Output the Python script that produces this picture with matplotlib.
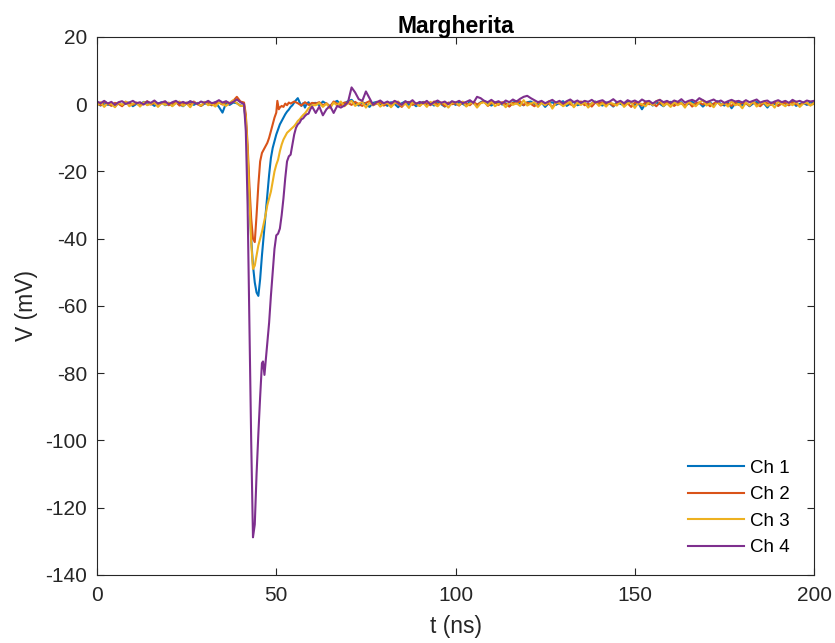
import numpy as np
import matplotlib
matplotlib.use("Agg")
import matplotlib.pyplot as plt

plt.rcParams['font.family'] = ['Liberation Sans', 'DejaVu Sans']
plt.rcParams['axes.unicode_minus'] = False

# time grid: baseline before pulse (0..40 ns), after pulse (61..200 ns)
t_pre = np.arange(0, 41)
t_post = np.arange(61, 201)

# ---- Ch 1 ----
ch1_pre = [0.3, -0.4, 0.6, -0.2, 0.1, -0.7, 0.4, -0.3, 0.2, 0.5, -0.6, 0.1, -0.2, 0.7,
           -0.1, 0.3, -0.5, 0.2, 0.6, -0.3, 0.1, -0.4, 0.5, 0.0, -0.6, 0.3, 0.8, -0.2,
           0.4, -0.5, 0.2, 0.1, -0.3, 0.6, -0.8, -2.5, 0.4, -0.2, 0.5, 0.3, -0.4]
ch1_pulse_t = [41.0, 41.5, 42.0, 42.5, 43.0, 43.5, 44.0, 44.5, 45.0, 45.5, 46.0, 46.5,
               47.0, 47.5, 48.0, 48.5, 49.0, 49.5, 50.0, 50.5, 51.0, 51.5, 52.0, 52.5,
               53.0, 53.5, 54.0, 54.5, 55.0, 55.5, 56.0, 56.5, 57.0, 57.5, 58.0, 58.5,
               59.0, 59.5, 60.0]
ch1_pulse = [-0.5, -5, -15, -28, -40, -48, -53, -56, -57, -52, -45, -39,
             -33, -27, -21, -16, -13, -11, -9, -7.5, -6, -5, -4, -3,
             -2.2, -1.6, -0.8, -0.3, 0.5, 1.2, 1.8, 0.6, -0.5, 0.3, -1.0, 0.2,
             0.6, -0.4, 0.3]
ch1_post = [0.4, -0.3, 0.8, 0.1, -0.6, 0.5, 1.0, -0.2, 0.3, 0.9, 1.3, 0.2, -0.4, 0.6, 0.1, -0.8, 0.4, 0.7, -0.3, 0.2,
            -0.5, 0.6, 0.1, -0.9, 0.3, 0.8, -0.2, 0.4, -0.6, 0.2, 0.7, -0.1, 0.5, -0.4, 0.9, 0.0, -0.7, 0.3, 0.6, -0.2,
            0.5, 0.1, -0.5, 0.8, 0.3, -0.3, 0.6, 1.0, 0.2, -0.4, 0.4, 0.7, -0.1, 0.3, -0.6, 0.5, 0.9, 0.2, -0.3, 0.6,
            0.8, 0.1, -0.4, 0.5, -0.8, 0.3, 0.6, -0.2, 0.4, 0.9, -0.5, 0.2, 0.7, -0.3, 0.1, 0.5, -0.6, 0.3, 0.8, 0.0,
            -0.4, 0.5, 0.2, -0.7, 0.6, 0.1, -0.3, 0.8, 0.4, -0.2, 0.3, -1.5, 0.2, 0.6, -0.4, 0.5, 0.1, -0.6, 0.4, 0.7,
            -0.2, 0.3, 0.6, -0.5, 0.2, 0.8, -0.1, 0.4, -0.7, 0.3, 0.5, -0.3, 0.9, 0.1, -0.4, 0.6, -1.2, 0.2, 0.5, -0.3,
            0.4, -0.6, 0.2, 0.7, -0.2, 0.3, -1.0, 0.5, 0.1, -0.4, 0.6, 0.2, -0.3, 0.8, -0.5, 0.1, 0.4, -0.2, 0.6, 0.3]

# ---- Ch 2 ----
ch2_pre = [0.5, -0.3, 0.8, 0.2, -0.5, 0.4, 0.1, -0.6, 0.7, 0.3, -0.2, 0.5, -0.4, 0.2,
           0.9, -0.1, 0.4, -0.5, 0.3, 0.6, -0.3, 0.2, 0.7, -0.4, 0.1, 0.5, -0.2, 0.8,
           0.0, -0.5, 0.4, 0.6, -0.3, 0.2, 0.5, -0.1, 0.7, 0.3, 1.0, 2.2, 0.8]
ch2_pulse_t = [41.0, 41.5, 42.0, 42.5, 43.0, 43.5, 44.0, 44.5, 45.0, 45.5, 46.0, 46.5,
               47.0, 47.5, 48.0, 48.5, 49.0, 49.5, 50.0, 50.3, 50.7, 51.0, 51.5, 52.0,
               52.5, 53.0, 53.5, 54.0, 55.0, 56.0, 57.0, 58.0, 59.0, 60.0]
ch2_pulse = [0.5, -3, -12, -24, -34, -40, -41, -33, -24, -17, -14.5, -13.5,
             -12.5, -11.5, -10, -8, -6, -4, -2.5, 1.0, -1.5, -1.0, -0.5, -0.8,
             0.2, -0.3, 0.5, 0.2, 0.8, 0.3, -0.4, 0.6, -0.2, 0.4]
ch2_post = [0.2, 0.6, -0.4, 0.3, -0.7, 0.8, 0.1, -0.3, 0.5, 0.4, -0.2, 0.7, 0.0, -0.5, 0.4, 0.9, -0.3, 0.2, 0.6, -0.4,
            0.3, -0.6, 0.5, 0.1, -0.8, 0.4, 0.7, -0.2, 0.3, -0.5, 0.6, 0.2, -0.3, 0.8, -0.1, 0.4, -0.6, 0.5, 0.0, 0.3,
            -0.4, 0.6, 0.2, -0.3, 0.7, -0.1, 0.4, 0.8, -0.5, 0.3, 0.5, -0.2, 0.6, 0.1, -0.7, 0.4, 0.2, 0.9, -0.3, 0.5,
            0.1, -0.6, 0.4, 0.7, -0.2, 0.3, -0.9, 0.5, 0.2, -0.4, 0.6, 0.0, -0.5, 0.4, 0.8, -0.3, 0.2, -0.7, 0.5, 0.3,
            0.6, -0.2, 0.4, -0.5, 0.1, 0.7, -0.3, 0.3, -0.8, 0.5, 0.2, -0.4, 0.6, 0.0, 0.3, -0.6, 0.5, -0.2, 0.7, 0.1,
            -0.5, 0.4, 0.2, -0.3, 0.6, -0.7, 0.3, 0.5, -0.1, 0.4, -0.6, 0.2, 0.7, -0.4, 0.3, 0.1, -0.5, 0.6, -0.2, 0.4,
            0.2, -0.4, 0.6, 0.1, -0.6, 0.5, 0.3, -0.2, 0.7, -0.5, 0.2, 0.4, -0.3, 0.6, 0.0, -0.4, 0.5, 0.2, -0.3, 0.4]

# ---- Ch 3 ----
ch3_pre = [-0.4, 0.6, -0.8, 0.3, 0.1, -0.9, 0.5, -0.2, 0.8, -0.6, 0.2, 0.4, -0.7, 0.6,
           -0.3, 0.1, 0.7, -0.8, 0.4, -0.2, 0.5, -0.6, 0.3, 0.8, -0.5, 0.2, -0.9, 0.6,
           0.1, -0.4, 0.7, -0.3, 0.2, -0.7, 0.5, 0.1, -0.5, 0.4, 1.2, 0.3, -0.5]
ch3_pulse_t = [41.0, 41.5, 42.0, 42.5, 43.0, 43.5, 44.0, 44.5, 45.0, 45.5, 46.0, 46.5,
               47.0, 47.5, 48.0, 48.5, 49.0, 49.5, 50.0, 50.5, 51.0, 51.5, 52.0, 52.5,
               53.0, 53.5, 54.0, 54.5, 55.0, 55.5, 56.0, 56.5, 57.0, 57.5, 58.0, 58.5,
               59.0, 59.5, 60.0]
ch3_pulse = [-0.5, -4, -14, -28, -41, -49, -48, -45, -42, -40, -38, -35.5,
             -33, -30, -28, -26, -23, -20, -18, -16.5, -14, -12, -10.5, -9.5,
             -8.5, -8, -7.5, -7, -6.5, -5.8, -5, -4.5, -3.8, -3.2, -2.7, -2,
             -1.2, -0.7, -0.3]
ch3_post = [-0.3, 0.4, -0.8, 0.2, -1.2, 0.5, -0.4, 0.8, -0.6, 0.3, 1.0, -0.5, 0.2, 0.7, -1.0, 0.4, -0.3, 0.6, -0.7, 0.1,
            0.5, -0.9, 0.3, 0.8, -0.4, 0.2, -1.1, 0.6, 0.1, -0.5, 0.4, -0.8, 0.7, 0.0, -0.6, 0.5, 0.2, -1.0, 0.4, 0.6,
            -0.3, 0.8, -0.7, 0.2, 0.5, -1.0, 0.3, 0.6, -0.4, 0.9, -0.6, 0.1, 0.4, -0.9, 0.7, -0.2, 0.3, -0.5, 1.2, -0.4,
            0.2, 0.6, -0.8, 0.4, -0.3, 0.9, -1.3, 0.3, 0.5, -0.6, 0.1, 0.8, -0.9, 0.4, -0.2, 0.6, -1.0, 0.3, 0.7, -0.5,
            0.3, -0.7, 0.5, 0.1, -0.4, 0.8, -0.8, 0.2, 0.6, -1.1, 0.4, 0.0, -0.6, 0.7, -0.3, 0.9, 1.3, -0.5, 0.2, -0.8,
            0.6, -0.3, 0.4, -1.0, 0.7, 0.1, -0.6, 0.5, 1.2, -0.4, 0.3, -0.9, 0.6, -0.2, 0.4, -0.7, 0.8, -0.3, 0.1, -1.2,
            0.5, -0.4, 0.9, -0.7, 0.2, 0.6, -0.5, 0.3, -1.0, 0.7, 0.1, -0.6, 0.4, -0.3, 0.8, -0.8, 0.2, 0.5, -0.4, 0.3]

# ---- Ch 4 ----
ch4_pre = [0.8, 0.3, 1.0, 0.2, 0.7, -0.2, 0.6, 0.9, 0.1, 0.5, 1.0, 0.3, 0.6, -0.1,
           0.8, 0.4, 1.1, 0.2, 0.5, 0.9, 0.0, 0.6, 1.0, 0.3, 0.7, 0.2, 0.9, 0.5,
           0.1, 0.8, 0.4, 1.0, 0.3, 0.6, 1.2, 0.5, 0.9, 0.2, 0.7, 1.4, 0.6]
ch4_pulse_t = [41.0, 41.5, 42.0, 42.5, 43.0, 43.5, 44.0, 44.5, 45.0, 45.5, 46.0, 46.3,
               46.7, 47.0, 47.5, 48.0, 48.5, 49.0, 49.5, 50.0, 50.5, 51.0, 51.5, 52.0,
               52.5, 53.0, 53.5, 54.0, 54.5, 55.0, 55.5, 56.0, 56.5, 57.0, 57.5, 58.0,
               58.5, 59.0, 59.5, 60.0]
ch4_pulse = [0.0, -8, -30, -64, -100, -128.8, -125, -110, -98, -87, -77, -76.5,
             -80.5, -77, -71, -65, -57, -50, -43, -39, -38.5, -37, -33, -28,
             -22, -17, -15.5, -15, -12, -9, -7, -6, -5.5, -4.5, -4.2, -3.5,
             -3, -2.8, -1.5, -0.7]
ch4_post = [-2.6, -0.7, -3.3, -1.5, -0.5, -2.6, -0.5, -1.0, -0.4, 0.6, 5.0, 3.5, 1.5, 1.0, 3.8, 1.8, -0.2, 0.6, 1.1, 0.3,
            0.8, 0.2, 1.0, 0.5, -0.2, 0.9, 0.4, 1.2, 0.1, 0.7, 0.3, 1.0, -0.1, 0.6, 1.1, 0.4, 0.8, 0.0, 0.9, 0.5,
            1.0, 0.3, 0.7, 1.2, 0.4, 2.2, 1.8, 1.0, 0.6, 1.3, 0.5, 0.9, 0.2, 1.1, 0.6, 1.4, 0.8, 1.6, 2.2, 2.5,
            1.8, 1.2, 0.6, 1.0, 0.3, 0.8, 1.3, 0.5, 1.0, 0.2, 0.9, 1.4, 0.6, 1.1, 0.4, 1.0, 0.7, 1.3, 0.5, 0.9,
            1.2, 0.4, 0.8, 1.5, 0.6, 1.0, 0.3, 1.2, 0.7, 1.1, 0.5, 1.4, 0.8, 1.0, 0.2, 0.9, 1.3, 0.6, 1.0, 0.4,
            1.1, 0.7, 1.5, 0.5, 1.0, 1.3, 0.8, 1.8, 1.2, 0.6, 1.0, 1.4, 0.7, 1.1, 0.4, 0.9, 1.3, 0.8, 1.0, 0.5,
            1.2, 0.6, 1.0, 1.4, 0.5, 0.9, 1.1, 0.3, 0.8, 1.2, 0.6, 1.0, 0.4, 1.3, 0.7, 1.0, 0.5, 1.1, 0.8, 1.0]

labels = ['Ch 1', 'Ch 2', 'Ch 3', 'Ch 4']
colors = ['#0072BD', '#D95319', '#EDB120', '#7E2F8E']
channels = [
    (ch1_pre, ch1_pulse_t, ch1_pulse, ch1_post),
    (ch2_pre, ch2_pulse_t, ch2_pulse, ch2_post),
    (ch3_pre, ch3_pulse_t, ch3_pulse, ch3_post),
    (ch4_pre, ch4_pulse_t, ch4_pulse, ch4_post),
]

fig = plt.figure(figsize=(8.35, 6.43), dpi=100)
ax = fig.add_axes([0.1162, 0.1058, 0.8587, 0.8367])

for (pre, pt, pv, post), lab, col in zip(channels, labels, colors):
    t = np.concatenate([t_pre, pt, t_post])
    v = np.concatenate([pre, pv, post])
    ax.plot(t, v, color=col, lw=1.5, label=lab)

ax.set_xlim(0, 200)
ax.set_ylim(-140, 20)
ax.set_xticks(np.arange(0, 201, 50))
ax.set_yticks(np.arange(-140, 21, 20))
ax.tick_params(direction='in', top=True, right=True, length=5, labelsize=15,
               colors='#262626', width=0.8)
ax.tick_params(axis='x', pad=8)
ax.tick_params(axis='y', pad=7)
for s in ax.spines.values():
    s.set_color('#262626')
    s.set_linewidth(0.8)

ax.set_xlabel('t (ns)', fontsize=16.5, color='#262626', labelpad=7)
ax.set_ylabel('V (mV)', fontsize=16.5, color='#262626', labelpad=5)
ax.set_title('Margherita', fontsize=16.5, fontweight='bold', pad=3)

ax.legend(loc='lower right', bbox_to_anchor=(0.977, 0.021), borderaxespad=0,
          frameon=False, fontsize=13.5, handlelength=3.0, handletextpad=0.32,
          labelspacing=0.5)

fig.savefig('out.png', dpi=100)
